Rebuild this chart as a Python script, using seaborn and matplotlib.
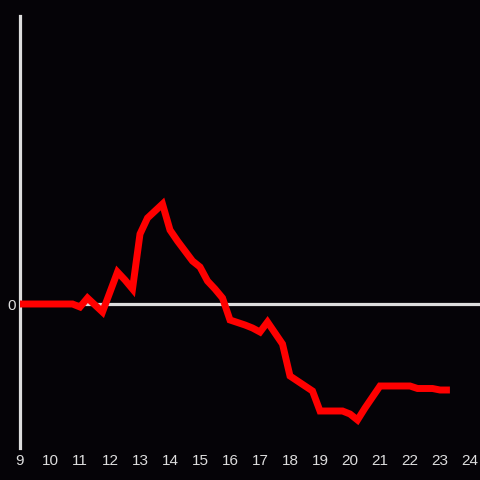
import numpy as np
import pandas as pd
import seaborn as sns
import matplotlib.pyplot as plt

# hours of day (quarter-hour steps) and the running value
hours = [9.0, 9.25, 9.5, 9.75, 10.0, 10.25, 10.5, 10.75, 11.0, 11.25, 11.5, 11.75,
         12.0, 12.25, 12.5, 12.75, 13.0, 13.25, 13.5, 13.75, 14.0, 14.25, 14.5, 14.75,
         15.0, 15.25, 15.5, 15.75, 16.0, 16.25, 16.5, 16.75, 17.0, 17.25, 17.5, 17.75,
         18.0, 18.25, 18.5, 18.75, 19.0, 19.25, 19.5, 19.75, 20.0, 20.25, 20.5, 20.75,
         21.0, 21.25, 21.5, 21.75, 22.0, 22.25, 22.5, 22.75, 23.0, 23.33]
values = [0, 0, 0, 0, 0, 0, 0, 0, -3, 6, -1, -8,
          12, 32, 24, 15, 70, 86, 93, 100, 74, 63, 53, 43,
          37, 23, 15, 6, -16, -18.5, -21, -24, -28, -18, -29, -40,
          -72, -77, -82, -87, -107, -107, -107, -107, -110, -116, -104, -93,
          -82, -82, -82, -82, -82, -84.5, -84.5, -84.5, -86, -86]
xticks = list(range(9, 25))

df = pd.DataFrame({'hour': hours, 'value': values})

bg = '#050307'
fg = '#dddddd'
sns.set_style('dark', {'axes.facecolor': bg, 'figure.facecolor': bg})
plt.rcParams['font.family'] = ['Liberation Sans', 'DejaVu Sans']

fig = plt.figure(figsize=(4.8, 4.8), dpi=100)
ax = fig.add_axes([20 / 480, 32 / 480, 460 / 480, 432 / 480])
ax.set_facecolor(bg)

ax.axhline(0, color=fg, lw=2.3, zorder=1)
sns.lineplot(data=df, x='hour', y='value', color='#ff0000', lw=5.0, ax=ax,
             solid_capstyle='butt', solid_joinstyle='miter', zorder=3)

ax.set_xlim(9, 24.333)
ax.set_ylim(-144, 288)
ax.set_xticks(xticks)
ax.set_xticklabels([str(t) for t in xticks])
ax.set_yticks([0])
ax.set_yticklabels(['0'])
ax.tick_params(axis='both', length=0, colors=fg, labelsize=11)
ax.tick_params(axis='x', pad=4)
ax.tick_params(axis='y', pad=3)
ax.set_xlabel('')
ax.set_ylabel('')
ax.grid(False)
for s in ['top', 'right', 'bottom']:
    ax.spines[s].set_visible(False)
ax.spines['left'].set_color(fg)
ax.spines['left'].set_linewidth(2.3)

fig.savefig('out.png', dpi=100, facecolor=bg)
